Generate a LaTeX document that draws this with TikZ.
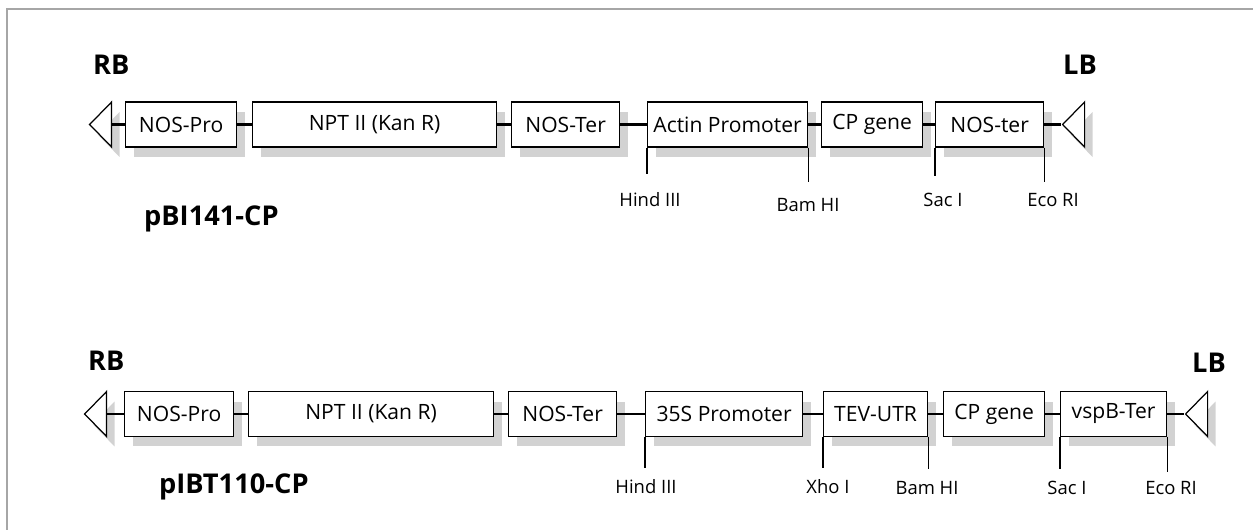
\documentclass[tikz,border=0pt]{standalone}
\usepackage{fontspec}
\setmainfont{Open Sans}
\usetikzlibrary{shapes.geometric,shadows}
\begin{document}
\begin{tikzpicture}[x=0.02cm, y=-0.02cm,
	gene/.style={draw, line width=0.7pt, fill=white, minimum width=#1*0.02cm, minimum height=0.9cm, inner sep=0pt, anchor=west, font=\fontsize{12}{14}\selectfont, drop shadow={shadow xshift=0.16cm, shadow yshift=-0.2cm, fill=gray!35, opacity=1}},
	border/.style={draw, line width=0.7pt, fill=white, isosceles triangle, shape border rotate=180, isosceles triangle stretches, minimum width=0.9cm, minimum height=0.44cm, inner sep=0pt, anchor=apex, drop shadow={shadow xshift=0.16cm, shadow yshift=-0.2cm, fill=gray!35, opacity=1}},
	link/.style={line width=1.6pt},
	cut/.style={line width=0.7pt},
	site/.style={font=\fontsize{10.5}{12}\selectfont},
	tag/.style={font=\bfseries\fontsize{15.5}{18}\selectfont, anchor=base west}]
	\useasboundingbox (0,0) rectangle (1253,530);
	
	% Khung
	\draw[gray!70, line width=1.1pt] (7,530) -- (7,9) -- (1253,9);
	
	% pBI141-CP
	\node[tag] (rb1) at (87,75) {RB};
	\node[tag] (lb1) at (1057,75) {LB};
	\node[tag] (name1) at (138,225) {pBI141-CP};
	\node[border] (trr1) at (88,124.5) {};
	\node[gene=111] (np1) at (125,124.5) {NOS-Pro};
	\node[gene=244] (npt1) at (252,124.5) {NPT II (Kan R)};
	\node[gene=108] (nt1) at (511,124.5) {NOS-Ter};
	\node[gene=160] (act1) at (647,124.5) {Actin Promoter};
	\node[gene=101] (cp1) at (821,124.5) {CP gene};
	\node[gene=108] (ntr1) at (935,124.5) {NOS-ter};
	\node[border] (trl1) at (1061,124.5) {};
	\draw[link] (trr1.lower side) -- (np1.west);
	\draw[link] (np1.east) -- (npt1.west);
	\draw[link] (npt1.east) -- (nt1.west);
	\draw[link] (nt1.east) -- (act1.west);
	\draw[link] (act1.east) -- (cp1.west);
	\draw[link] (cp1.east) -- (ntr1.west);
	\draw[link] (ntr1.east) -- (trl1.apex);
	
	% Vị trí cắt
	\draw[cut] (act1.south west) -- ++(0,26);
	\draw[cut] (act1.south east) -- ++(0,34);
	\draw[cut] (ntr1.south west) -- ++(0,28);
	\draw[cut] (ntr1.south east) -- ++(0,34);
	\node[site] (hind1) at (650,200) {Hind III};
	\node[site] (bam1) at (808,205) {Bam HI};
	\node[site] (sac1) at (943,200) {Sac I};
	\node[site] (eco1) at (1053,200) {Eco RI};
	
	% pIBT110-CP
	\node[tag] (rb2) at (82,370) {RB};
	\node[tag] (lb2) at (1186,372) {LB};
	\node[tag] (name2) at (153,493) {pIBT110-CP};
	\node[border] (trr2) at (83,414) {};
	\node[gene=109] (np2) at (124,414) {NOS-Pro};
	\node[gene=245] (npt2) at (248,414) {NPT II (Kan R)};
	\node[gene=108] (nt2) at (508,414) {NOS-Ter};
	\node[gene=157] (p35) at (645,414) {35S Promoter};
	\node[gene=104] (tev2) at (823,414) {TEV-UTR};
	\node[gene=101] (cp2) at (943,414) {CP gene};
	\node[gene=106] (vsp2) at (1060,414) {vspB-Ter};
	\node[border] (trl2) at (1184,414) {};
	\draw[link] (trr2.lower side) -- (np2.west);
	\draw[link] (np2.east) -- (npt2.west);
	\draw[link] (npt2.east) -- (nt2.west);
	\draw[link] (nt2.east) -- (p35.west);
	\draw[link] (p35.east) -- (tev2.west);
	\draw[link] (tev2.east) -- (cp2.west);
	\draw[link] (cp2.east) -- (vsp2.west);
	\draw[link] (vsp2.east) -- (trl2.apex);
	
	% Vị trí cắt
	\draw[cut] (p35.south west) -- ++(0,31);
	\draw[cut] (tev2.south west) -- ++(0,31);
	\draw[cut] (tev2.south east) -- ++(0,32);
	\draw[cut] (vsp2.south west) -- ++(0,32);
	\draw[cut] (vsp2.south east) -- ++(0,35);
	\node[site] (hind2) at (646,487) {Hind III};
	\node[site] (xho2) at (828,487) {Xho I};
	\node[site] (bam2) at (927,488) {Bam HI};
	\node[site] (sac2) at (1067,488) {Sac I};
	\node[site] (eco2) at (1171,488) {Eco RI};
\end{tikzpicture}
\end{document}
